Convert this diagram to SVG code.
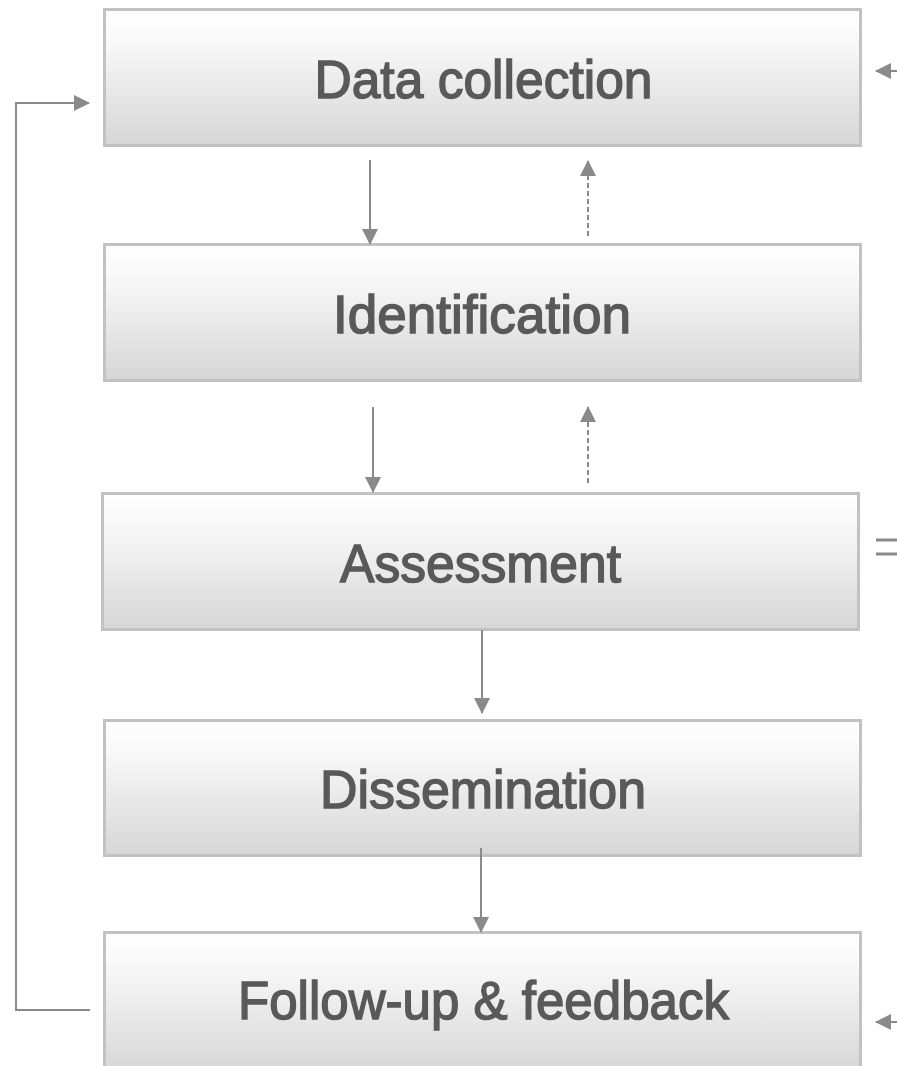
<svg xmlns="http://www.w3.org/2000/svg" width="897" height="1066" viewBox="0 0 897 1066">
<defs>
<linearGradient id="g" x1="0" y1="0" x2="0" y2="1">
<stop offset="0" stop-color="#ffffff"/>
<stop offset="0.25" stop-color="#f8f8f8"/>
<stop offset="1" stop-color="#d6d6d6"/>
</linearGradient>
<marker id="ah" markerUnits="userSpaceOnUse" markerWidth="16" markerHeight="16" viewBox="0 0 16 16" refX="15" refY="8" orient="auto">
<path d="M0,0 L16,8 L0,16 Z" fill="#8a8a8a"/>
</marker>
</defs>
<style>
.box{fill:url(#g);stroke:#c2c2c2;stroke-width:3}
.lbl{font-family:"Liberation Sans",Arial,sans-serif;font-weight:normal;font-size:54px;fill:#595959;stroke:#595959;stroke-width:1.5;text-anchor:middle}
.c{fill:none;stroke:#8a8a8a;stroke-width:2}
.d{stroke-dasharray:5,3}
</style>
<g id="n1"><rect class="box" x="104.5" y="9.5" width="756" height="136"/><text class="lbl" x="483.5" y="98" textLength="338" lengthAdjust="spacingAndGlyphs">Data collection</text></g>
<g id="n2"><rect class="box" x="104.5" y="244.5" width="756" height="136"/><text class="lbl" x="482" y="333" textLength="298" lengthAdjust="spacingAndGlyphs">Identification</text></g>
<g id="n3"><rect class="box" x="102.5" y="493.5" width="756" height="136"/><text class="lbl" x="480.5" y="582" textLength="281" lengthAdjust="spacingAndGlyphs">Assessment</text></g>
<g id="n4"><rect class="box" x="104.5" y="720.5" width="756" height="135"/><text class="lbl" x="483" y="808" textLength="326" lengthAdjust="spacingAndGlyphs">Dissemination</text></g>
<g id="n5"><rect class="box" x="104.5" y="932.5" width="756" height="140"/><text class="lbl" x="483.5" y="1019" textLength="491" lengthAdjust="spacingAndGlyphs">Follow-up &amp; feedback</text></g>
<g id="connectors">
<line class="c" x1="370" y1="160" x2="370" y2="244" marker-end="url(#ah)"/>
<line class="c d" x1="588" y1="236" x2="588" y2="161" marker-end="url(#ah)"/>
<line class="c" x1="373" y1="407" x2="373" y2="492" marker-end="url(#ah)"/>
<line class="c d" x1="588" y1="483" x2="588" y2="407" marker-end="url(#ah)"/>
<line class="c" x1="482" y1="630" x2="482" y2="713" marker-end="url(#ah)"/>
<line class="c" x1="481" y1="848" x2="481" y2="932" marker-end="url(#ah)"/>
<polyline class="c" points="90,1010 16,1010 16,103 89,103" marker-end="url(#ah)"/>
<line class="c" x1="897" y1="71" x2="876" y2="71" marker-end="url(#ah)"/>
<line class="c" x1="897" y1="1022" x2="876" y2="1022" marker-end="url(#ah)"/>
<line x1="876" y1="540" x2="897" y2="540" stroke="#8a8a8a" stroke-width="3"/>
<line x1="876" y1="554" x2="897" y2="554" stroke="#8a8a8a" stroke-width="3"/>
</g>
</svg>
